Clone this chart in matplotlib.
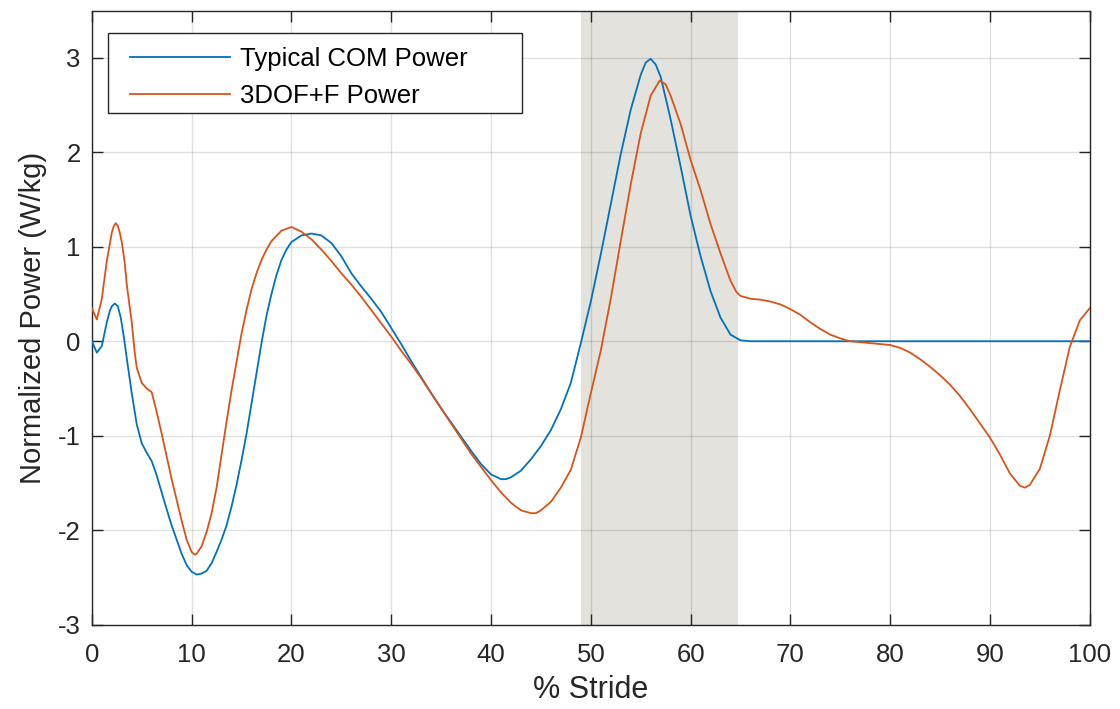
import matplotlib
matplotlib.use("Agg")
import matplotlib.pyplot as plt
from matplotlib.patches import Rectangle

plt.rcParams['font.family'] = ['Liberation Sans', 'DejaVu Sans']
plt.rcParams['axes.unicode_minus'] = False

# % stride sample positions
stride_com = [0, 0.5, 1.0, 1.5, 1.8, 2.0, 2.3, 2.6, 2.9, 3.2, 3.5, 4.0, 4.5, 5.0, 5.5, 6.0,
              6.5, 7.0, 7.5, 8.0, 8.5, 9.0, 9.5, 10.0, 10.5, 11.0, 11.5, 12.0, 12.5, 13.0,
              13.5, 14.0, 14.5, 15.0, 15.5, 16.0, 16.5, 17.0, 17.5, 18.0, 18.5, 19.0,
              19.5, 20, 21, 22, 23, 24, 25, 26, 27, 28, 29, 30, 31, 32, 33, 34, 35, 36,
              37, 38, 39, 40, 41, 41.5, 42, 43, 44, 45, 46, 47, 48, 49, 50, 51, 52, 53,
              54, 55, 55.5, 56, 56.5, 57, 58, 59, 60, 61, 62, 63, 64, 65, 66, 70, 80,
              90, 100]
com_power = [0.0, -0.12, -0.05, 0.2, 0.32, 0.37, 0.40, 0.37, 0.25, 0.05, -0.18, -0.55,
             -0.88, -1.08, -1.18, -1.27, -1.42, -1.6, -1.78, -1.95, -2.1, -2.25, -2.37,
             -2.44, -2.47, -2.46, -2.43, -2.35, -2.23, -2.1, -1.95, -1.75, -1.52, -1.26,
             -0.98, -0.66, -0.34, -0.02, 0.27, 0.5, 0.7, 0.86, 0.97, 1.05, 1.12, 1.14,
             1.12, 1.04, 0.9, 0.72, 0.58, 0.45, 0.31, 0.14, -0.03, -0.21, -0.38, -0.55,
             -0.71, -0.86, -1.01, -1.16, -1.30, -1.41, -1.46, -1.46, -1.44, -1.37, -1.25,
             -1.11, -0.94, -0.72, -0.44, -0.02, 0.42, 0.92, 1.45, 1.98, 2.45, 2.82, 2.95,
             2.99, 2.93, 2.8, 2.35, 1.85, 1.33, 0.9, 0.53, 0.25, 0.07, 0.01, 0.0, 0.0,
             0.0, 0.0, 0.0]

stride_3dof = [0, 0.5, 1.0, 1.5, 2.0, 2.2, 2.4, 2.6, 2.8, 3.0, 3.3, 3.5, 4.0, 4.3, 4.5,
               5.0, 5.5, 6.0, 6.5, 7.0, 7.5, 8.0, 8.5, 9.0, 9.5, 10.0, 10.3, 10.5, 11.0,
               11.5, 12.0, 12.5, 13.0, 13.5, 14.0, 14.5, 15.0, 15.5, 16.0, 16.5, 17.0,
               17.5, 18, 19, 20, 21, 22, 23, 24, 25, 26, 27, 28, 29, 30, 31, 32, 33, 34,
               35, 36, 37, 38, 39, 40, 41, 42, 43, 44, 44.5, 45, 46, 47, 48, 49, 50, 51,
               52, 53, 54, 55, 56, 56.9, 57.5, 58, 59, 60, 61, 62, 63, 64, 64.6, 65, 66,
               67, 68, 69, 70, 71, 72, 73, 74, 75, 76, 77, 78, 79, 80, 81, 82, 83, 84, 85,
               86, 87, 88, 89, 90, 91, 92, 93, 93.5, 94, 95, 96, 97, 98, 99, 100]
dof_power = [0.35, 0.23, 0.45, 0.85, 1.15, 1.22, 1.25, 1.22, 1.15, 1.05, 0.83, 0.6, 0.2,
             -0.12, -0.28, -0.44, -0.5, -0.54, -0.75, -0.98, -1.22, -1.46, -1.68, -1.9,
             -2.1, -2.23, -2.26, -2.25, -2.17, -2.02, -1.82, -1.55, -1.2, -0.85, -0.52,
             -0.22, 0.08, 0.33, 0.55, 0.72, 0.86, 0.97, 1.06, 1.17, 1.21, 1.16, 1.08,
             0.97, 0.85, 0.72, 0.6, 0.47, 0.33, 0.19, 0.05, -0.1, -0.24, -0.39, -0.55,
             -0.71, -0.87, -1.03, -1.19, -1.33, -1.47, -1.6, -1.71, -1.79, -1.82, -1.82,
             -1.79, -1.7, -1.55, -1.36, -1.02, -0.55, -0.1, 0.45, 1.06, 1.66, 2.2, 2.6,
             2.76, 2.72, 2.6, 2.3, 1.92, 1.6, 1.24, 0.93, 0.64, 0.52, 0.48, 0.45, 0.44,
             0.42, 0.39, 0.34, 0.28, 0.2, 0.13, 0.07, 0.03, 0.0, -0.01, -0.02, -0.03,
             -0.04, -0.07, -0.12, -0.19, -0.27, -0.36, -0.46, -0.58, -0.72, -0.87, -1.02,
             -1.2, -1.4, -1.53, -1.55, -1.52, -1.35, -1.0, -0.52, -0.06, 0.22, 0.35]

shade_range = [49.0, 64.8]
x_ticks = [0, 10, 20, 30, 40, 50, 60, 70, 80, 90, 100]
y_ticks = [-3, -2, -1, 0, 1, 2, 3]
series_labels = ['Typical COM Power', '3DOF+F Power']

fig = plt.figure(figsize=(11.2, 7.09), dpi=100)
ax = fig.add_axes([0.082, 0.119, 0.891, 0.866])

ax.axvspan(shade_range[0], shade_range[1], color='#e3e2dd', lw=0, zorder=1)
ax.plot(stride_com, com_power, color='#0072BD', lw=1.3, label=series_labels[0], zorder=3)
ax.plot(stride_3dof, dof_power, color='#D95319', lw=1.3, label=series_labels[1], zorder=3)

ax.set_xlim(0, 100)
ax.set_ylim(-3, 3.5)
ax.set_xticks(x_ticks)
ax.set_yticks(y_ticks)
ax.grid(True, color='black', alpha=0.12, lw=1.0)
ax.tick_params(direction='in', length=8, width=1, colors='#262626', labelsize=18.5,
               top=True, right=True)
ax.tick_params(axis='x', pad=13)
ax.tick_params(axis='y', pad=8)
for s in ax.spines.values():
    s.set_color('#262626')
    s.set_linewidth(1.0)

ax.set_xlabel('% Stride', fontsize=22, color='#262626', labelpad=6)
ax.set_ylabel('Normalized Power (W/kg)', fontsize=21, color='#262626', labelpad=8)

# legend frame drawn as a box in axes coordinates
ax.add_patch(Rectangle((0.016, 0.8334), 0.415, 0.1304, transform=ax.transAxes,
                       facecolor='white', edgecolor='#262626', lw=1.0, zorder=5))
leg = ax.legend(loc='upper left', bbox_to_anchor=(0.038, 0.940), borderaxespad=0,
                borderpad=0, fontsize=18.5, handlelength=3.9, frameon=False,
                labelspacing=0.5, handletextpad=0.4)
leg.set_zorder(6)

fig.savefig('out.png', dpi=100)
